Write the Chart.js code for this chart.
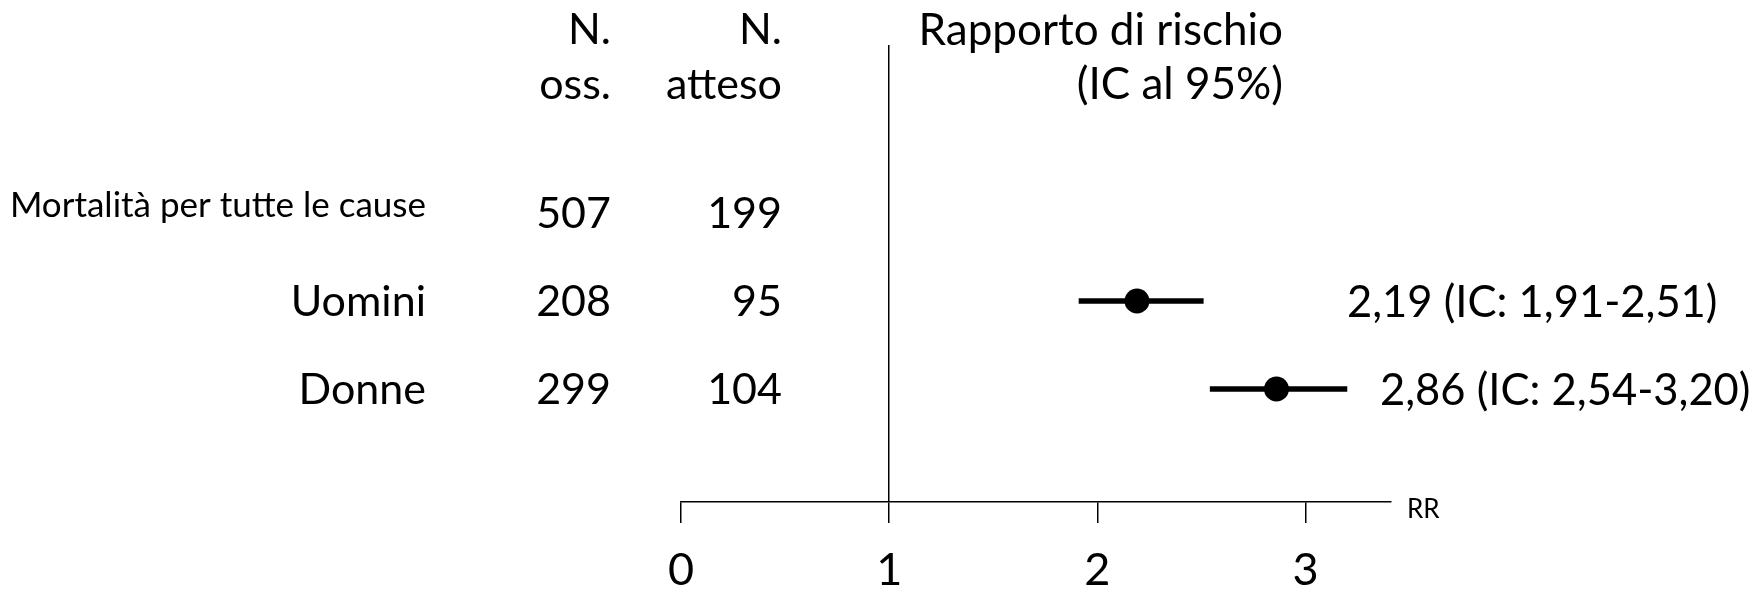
<!DOCTYPE html>
<html>
<head>
<meta charset="utf-8">
<script src="https://cdn.jsdelivr.net/npm/chart.js@4/dist/chart.umd.min.js"></script>
<style>
  html, body { margin: 0; padding: 0; background: #fff; }
  #wrap { width: 1762px; height: 589px; position: relative; }
</style>
</head>
<body>
<div id="wrap"><canvas id="forest"></canvas></div>
<script>
/* ===== DATI ===== */
const groups   = ['Mortalità per tutte le cause', 'Uomini', 'Donne'];
const observed = [507, 208, 299];
const expected = [199, 95, 104];
const rr       = [null, 2.19, 2.86];
const ciLow    = [null, 1.91, 2.54];
const ciHigh   = [null, 2.51, 3.20];
const rrTicks  = [0, 1, 2, 3];

const FONT = 'Lato, sans-serif';
const fmt = v => v.toFixed(2).replace('.', ',');

// layout della tabella (pixel)
const COL_LABEL = 426, COL_OBS = 611, COL_EXP = 782, COL_RR_HEAD = 1283;
const NOTE_X = [null, 1347, 1380];

// Plugin: testi della tabella a sinistra e annotazioni a destra
const tableText = {
  id: 'tableText',
  afterDraw(chart) {
    const { ctx, scales: { x, y } } = chart;
    const txt = (s, px, py, size, align) => {
      ctx.font = size + 'px ' + FONT;
      ctx.textAlign = align;
      ctx.textBaseline = 'alphabetic';
      ctx.fillText(s, px, py + size * 0.36);
    };
    ctx.save();
    ctx.fillStyle = '#000';

    // intestazioni
    txt('N.', COL_OBS, 29, 43, 'right');
    txt('oss.', COL_OBS, 84, 43, 'right');
    txt('N.', COL_EXP, 29, 43, 'right');
    txt('atteso', COL_EXP, 84, 43, 'right');
    txt('Rapporto di rischio', COL_RR_HEAD, 29, 44, 'right');
    txt('(IC al 95%)', COL_RR_HEAD, 83, 44, 'right');

    groups.forEach((g, i) => {
      const py = y.getPixelForValue(i);
      if (i === 0) txt(g, COL_LABEL, py - 9, 35, 'right');
      else txt(g, COL_LABEL, py, 43, 'right');
      txt(String(observed[i]), COL_OBS, py, 43, 'right');
      txt(String(expected[i]), COL_EXP, py, 43, 'right');
      if (rr[i] != null) {
        txt(`${fmt(rr[i])} (IC: ${fmt(ciLow[i])}-${fmt(ciHigh[i])})`, NOTE_X[i], py, 43.5, 'left');
      }
    });

    // etichetta asse
    txt('RR', x.right + 16, y.bottom + 7, 26, 'left');
    ctx.restore();
  }
};

const datasets = [];
groups.forEach((g, i) => {
  if (rr[i] == null) return;
  datasets.push({
    label: g + ' IC',
    data: [{ x: ciLow[i], y: i }, { x: ciHigh[i], y: i }],
    showLine: true,
    borderColor: '#000',
    borderWidth: 5.5,
    pointRadius: 0,
    order: 2
  });
});
datasets.push({
  label: 'RR',
  data: groups.map((g, i) => rr[i] == null ? null : { x: rr[i], y: i }).filter(Boolean),
  backgroundColor: '#000',
  borderWidth: 0,
  pointRadius: 12.5,
  order: 1
});

new Chart(document.getElementById('forest'), {
  type: 'scatter',
  data: { datasets },
  options: {
    responsive: true, maintainAspectRatio: false,
    animation: false,
    layout: { padding: { left: 681, right: 371, top: 45, bottom: 0 } },
    plugins: { legend: { display: false }, tooltip: { enabled: false } },
    scales: {
      x: {
        type: 'linear', min: 0, max: 3.41,
        afterFit(scale) { scale.height = 87; },
        afterBuildTicks(scale) { scale.ticks = rrTicks.map(v => ({ value: v })); },
        ticks: {
          stepSize: 1, includeBounds: false, padding: 25,
          color: '#000', font: { family: FONT, size: 45, lineHeight: 1 },
          maxRotation: 0
        },
        grid: {
          drawOnChartArea: true,
          color: c => (c.tick && c.tick.value === 1 ? '#000' : 'rgba(0,0,0,0)'),
          lineWidth: 1.5,
          tickLength: 21,
          tickColor: '#000'
        },
        border: { display: true, color: '#000', width: 1.5 }
      },
      y: {
        type: 'linear', reverse: true, display: false,
        min: -1.909, max: 3.284
      }
    }
  },
  plugins: [tableText]
});
</script>
</body>
</html>
